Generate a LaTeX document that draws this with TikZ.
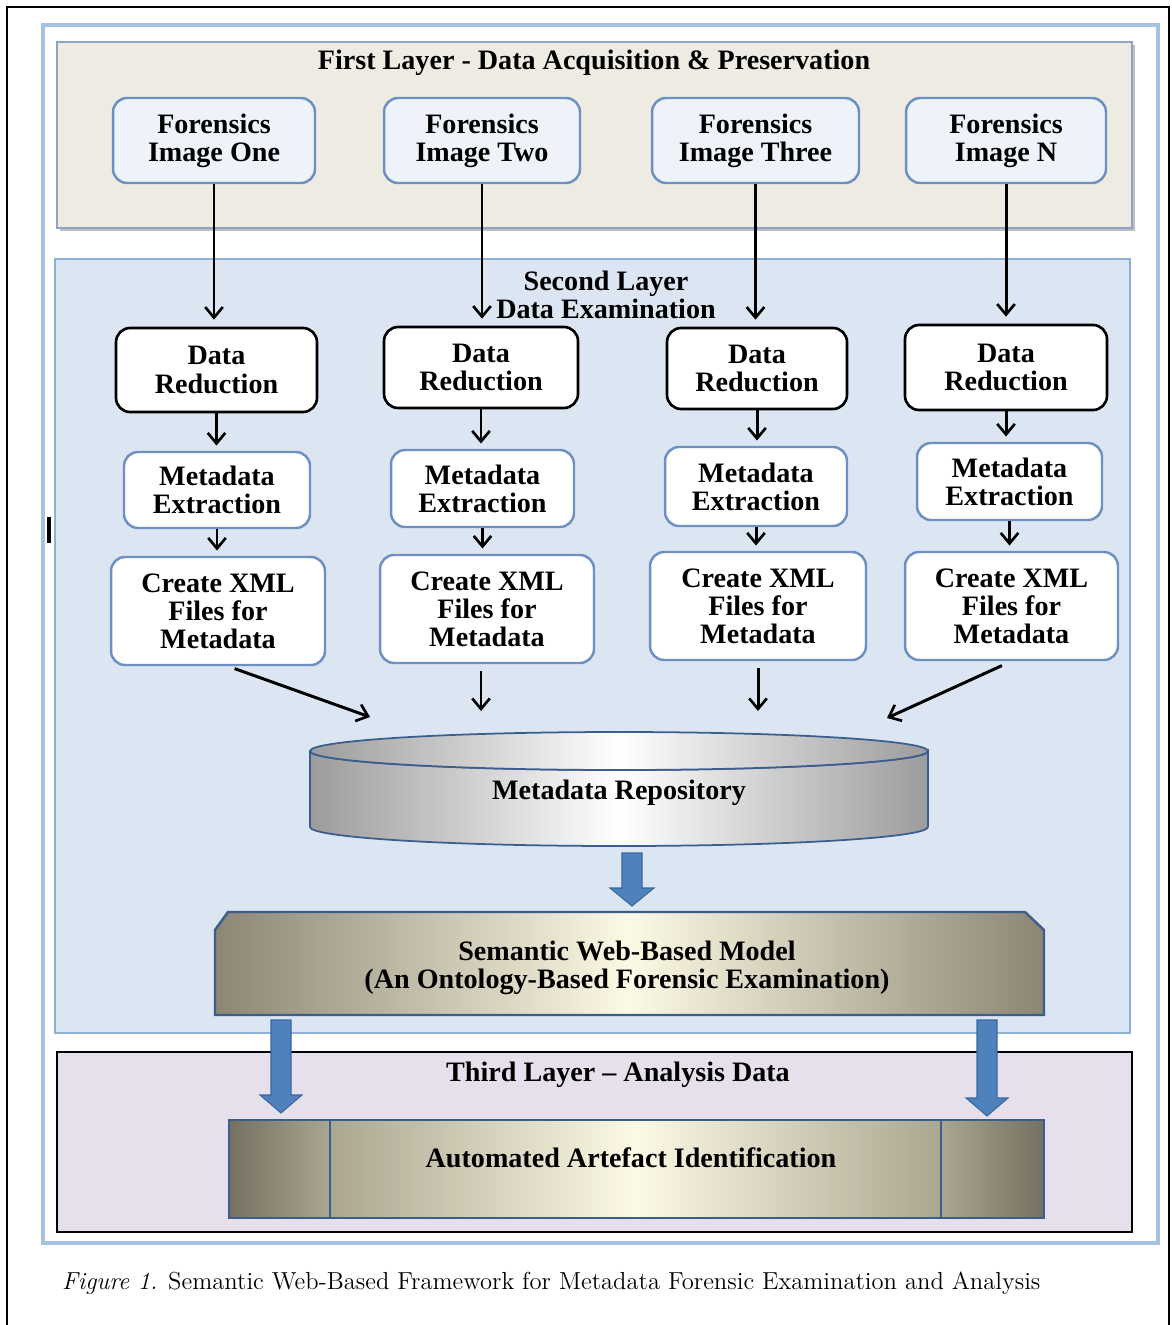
\documentclass[tikz,border=0pt]{standalone}
\usepackage{fontspec}
\usepackage{xcolor}
\usetikzlibrary{positioning,calc,arrows.meta}
\newfontfamily\tnr{Liberation Serif}

\definecolor{frameblue}{HTML}{A7C1E1}
\definecolor{layeronefill}{HTML}{EEECE2}
\definecolor{layeroneline}{HTML}{8DA4C4}
\definecolor{layertwofill}{HTML}{DCE6F2}
\definecolor{layertwoline}{HTML}{8EB0D9}
\definecolor{layerthreefill}{HTML}{E6E0EC}
\definecolor{boxline}{HTML}{6D8FC2}
\definecolor{imgfill}{HTML}{EEF3FA}
\definecolor{arrfill}{HTML}{4F81BD}
\definecolor{arrline}{HTML}{3A679E}
\definecolor{shapeline}{HTML}{3B5E8F}
\definecolor{khakidark}{HTML}{757060}
\definecolor{khaki}{HTML}{8C8672}
\definecolor{khakilight}{HTML}{ABA690}
\definecolor{cream}{HTML}{FCF9E4}
\definecolor{cylgray}{HTML}{9C9C9C}

% block arrow: start, end, half shaft, half head, head length
\newcommand{\blockarr}[5]{%
  \filldraw[bigarr] ($(#1)+(-#3,0)$) -- ($(#1)+(#3,0)$) -- ($(#2)+(#3,-#5)$) -- ($(#2)+(#4,-#5)$)
    -- (#2) -- ($(#2)+(-#4,-#5)$) -- ($(#2)+(-#3,-#5)$) -- cycle;}

\begin{document}
\begin{tikzpicture}[x=0.02cm,y=-0.02cm,
    lbl/.style={font=\tnr\bfseries\fontsize{16}{16}\selectfont, align=center, text=black},
    imgbox/.style={lbl, draw=boxline, line width=1.4pt, fill=imgfill, rounded corners=8pt, inner sep=0pt},
    redbox/.style={lbl, draw=black, line width=1.5pt, fill=white, rounded corners=8pt, inner sep=0pt},
    wbox/.style={lbl, draw=boxline, line width=1.4pt, fill=white, rounded corners=8pt, inner sep=0pt},
    arr/.style={-{Straight Barb[length=6pt,width=10pt,line width=1.5pt]}, line width=1.7pt},
    bigarr/.style={fill=arrfill, draw=arrline, line width=0.6pt}]
	\useasboundingbox (0,0) rectangle (1171,1325);
	\fill[white] (0,0) rectangle (1171,1325);
	
	% page frame
	\draw[line width=1.2pt] (7,1325) -- (7,7) -- (1169,7) -- (1169,1325);
	\draw[frameblue, line width=2pt] (43,25) rectangle (1158,1243);
	\fill[black] (47,517) rectangle (51,543);
	
	% layers
	\fill[black!25] (60,45) rectangle (1135,231);
	\draw[layeroneline, line width=1pt, fill=layeronefill] (57,42) rectangle (1132,228);
	\draw[layertwoline, line width=1pt, fill=layertwofill] (55,259) rectangle (1130,1033);
	\draw[black, line width=1pt, fill=layerthreefill] (57,1052) rectangle (1132,1232);
	
	\node[lbl] (t1) at (594,63) {First Layer - Data Acquisition \& Preservation};
	\node[lbl] (t2) at (606,295) {Second Layer\\Data Examination};
	\node[lbl] (t3) at (618,1075) {Third Layer – Analysis Data};
	
	% forensic images
	\foreach \i/\cx/\w/\nm in {1/214/4.04/One, 2/482/3.92/Two, 3/755.5/4.14/Three, 4/1006/4.0/N}
		\node[imgbox, minimum width=\w cm, minimum height=1.7cm] (f\i) at (\cx,140.5) {Forensics\\Image \nm};
	
	% data reduction
	\foreach \i/\cx/\cy/\w/\h in {1/216.5/370/4.02/1.68, 2/481/367.5/3.88/1.62, 3/757/368.5/3.6/1.62, 4/1006/367.5/4.04/1.7}
		\node[redbox, minimum width=\w cm, minimum height=\h cm] (d\i) at (\cx,\cy) {Data\\Reduction};
	
	% metadata extraction
	\foreach \i/\cx/\cy/\w/\h in {1/217/490/3.72/1.52, 2/482.5/488.5/3.66/1.54, 3/756/486.5/3.64/1.58, 4/1009.5/481.5/3.7/1.54}
		\node[wbox, minimum width=\w cm, minimum height=\h cm] (m\i) at (\cx,\cy) {Metadata\\Extraction};
	
	% xml files
	\foreach \i/\cx/\cy/\w in {1/218/611/4.28, 2/487/609/4.28, 3/758/606/4.32, 4/1011.5/606/4.26}
		\node[wbox, minimum width=\w cm, minimum height=2.16cm] (c\i) at (\cx,\cy) {Create XML\\Files for\\Metadata};
	
	% vertical arrows
	\foreach \i in {1,...,4} {
		\draw[arr, shorten >=4pt] (f\i.south) -- (f\i.south |- d\i.north);
		\draw[arr, shorten >=3pt] (d\i.south) -- (d\i.south |- m\i.north);
		\draw[arr, shorten >=3pt] (m\i.south) -- (m\i.south |- c\i.north);
	}
	
	% repository
	\shadedraw[left color=cylgray, right color=cylgray, middle color=white, draw=shapeline, line width=1pt]
		(310,751) -- (310,827) arc[start angle=180, end angle=360, x radius=6.18cm, y radius=0.38cm]
		-- (928,751) arc[start angle=0, end angle=-180, x radius=6.18cm, y radius=0.38cm] -- cycle;
	\shadedraw[left color=cylgray, right color=cylgray, middle color=white, draw=shapeline, line width=1pt]
		(619,751) ellipse [x radius=6.18cm, y radius=0.38cm];
	\node[lbl] (repo) at (619,793) {Metadata Repository};
	
	% arrows into repository
	\coordinate (r1) at (370,717);
	\coordinate (r2) at (481,711);
	\coordinate (r3) at (758,711);
	\coordinate (r4) at (887,718);
	\draw[arr, shorten <=4pt] ([xshift=0.2cm]c1.south) -- (r1);
	\draw[arr, shorten <=4pt] (c2.south -| r2) -- (r2);
	\draw[arr, shorten <=4pt] (c3.south) -- (r3);
	\draw[arr, shorten <=6pt] (c4.south) -- (r4);
	
	% semantic model
	\shadedraw[left color=khaki, right color=khaki, middle color=cream, draw=shapeline, line width=1.4pt]
		(215,930) -- (228,912) -- (1025,912) -- (1044,930) -- (1044,1015) -- (215,1015) -- cycle;
	\node[lbl] (sem) at (627,968) {Semantic Web-Based Model\\(An Ontology-Based Forensic Examination)};
	
	% block arrows
	\coordinate (b1s) at (632,853);
	\coordinate (b1e) at (632,906);
	\coordinate (b2s) at (281,1020);
	\coordinate (b2e) at (281,1113);
	\coordinate (b3s) at (987,1020);
	\coordinate (b3e) at (987,1116);
	\blockarr{b1s}{b1e}{10}{22}{18}
	\blockarr{b2s}{b2e}{10}{21}{18}
	\blockarr{b3s}{b3e}{10}{21}{18}
	
	% artefact identification
	\shade[left color=khakidark, right color=khakilight] (229,1120) rectangle (330,1218);
	\shade[left color=khakilight, right color=khakilight, middle color=cream] (330,1120) rectangle (941,1218);
	\shade[left color=khakilight, right color=khakidark] (941,1120) rectangle (1044,1218);
	\draw[shapeline, line width=1.6pt] (229,1120) rectangle (1044,1218);
	\draw[shapeline, line width=1pt] (330,1120) -- (330,1218) (941,1120) -- (941,1218);
	\node[lbl] (auto) at (631,1158) {Automated Artefact Identification};
	
	% caption
	\node[anchor=west, font=\fontsize{14}{16}\selectfont] (cap) at (56,1283)
		{\textit{Figure 1.} Semantic Web-Based Framework for Metadata Forensic Examination and Analysis};
\end{tikzpicture}
\end{document}
